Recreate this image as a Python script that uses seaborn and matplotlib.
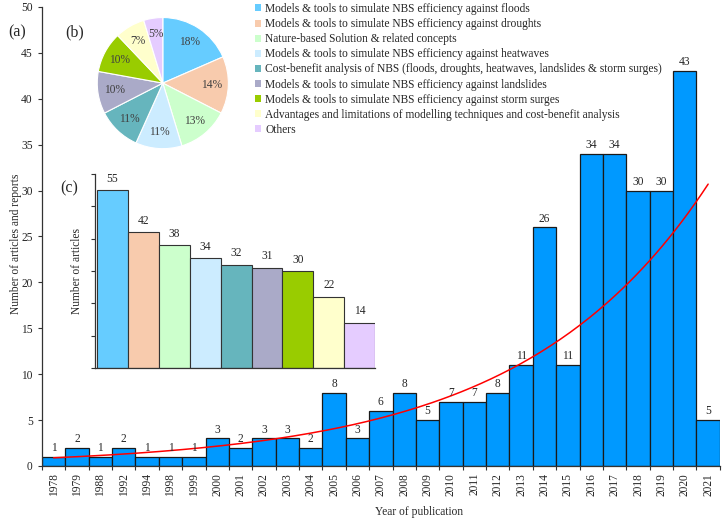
import numpy as np
import pandas as pd
import seaborn as sns
import matplotlib.pyplot as plt
from matplotlib.patches import Patch

sns.set_style('ticks')
plt.rcParams['font.family'] = ['Liberation Serif', 'DejaVu Serif']

# (a) articles per year
years = ['1978', '1979', '1988', '1992', '1994', '1998', '1999', '2000', '2001', '2002',
         '2003', '2004', '2005', '2006', '2007', '2008', '2009', '2010', '2011', '2012',
         '2013', '2014', '2015', '2016', '2017', '2018', '2019', '2020', '2021']
counts = [1, 2, 1, 2, 1, 1, 1, 3, 2, 3, 3, 2, 8, 3, 6, 8, 5, 7, 7, 8,
          11, 26, 11, 34, 34, 30, 30, 43, 5]

# (b)/(c) articles per topic
topics = ['Models & tools to simulate NBS efficiency against floods',
          'Models & tools to simulate NBS efficiency against droughts',
          'Nature-based Solution & related concepts',
          'Models & tools to simulate NBS efficiency against heatwaves',
          'Cost-benefit analysis of NBS (floods, droughts, heatwaves, landslides & storm surges)',
          'Models & tools to simulate NBS efficiency against landslides',
          'Models & tools to simulate NBS efficiency against storm surges',
          'Advantages and limitations of modelling techniques and cost-benefit analysis',
          'Others']
articles = [55, 42, 38, 34, 32, 31, 30, 22, 14]
topic_colors = ['#66CCFF', '#F8CBAD', '#CCFFCC', '#CCECFF', '#66B5BD',
                '#AAAAC8', '#99CC00', '#FFFFCC', '#E5CCFF']

txt = '#262626'
fs = 8.3

fig = plt.figure(figsize=(7.22, 5.21), dpi=100)

# ---- main bar chart
ax = fig.add_axes([0.058, 0.1056, 0.939, 0.881])
df = pd.DataFrame({'year': years, 'n': counts})
sns.barplot(data=df, x='year', y='n', color='#0099FF', saturation=1, width=1,
            edgecolor='#1a1a1a', linewidth=0.9, ax=ax)
ax.bar_label(ax.containers[0], padding=2, fontsize=fs, color=txt)

# exponential trend line fitted to the counts
idx = np.arange(len(counts))
b, a = np.polyfit(idx, np.log(counts), 1)
xs = np.linspace(0, len(counts) - 1, 200)
ax.plot(xs, np.exp(a + b * xs), color='#FF0000', lw=1.1)

ax.set_xlim(-0.5, len(counts) - 0.5)
ax.set_ylim(0, 50)
ax.set_yticks(range(0, 51, 5))
ax.set_xticks(np.arange(-0.5, len(counts), 1))
ax.set_xticklabels([])
ax.set_xticks(idx, minor=True)
ax.set_xticklabels(years, minor=True, rotation=90)
ax.tick_params(axis='x', which='minor', length=0, pad=5, labelsize=fs, labelcolor=txt)
ax.tick_params(axis='x', which='major', length=3, width=0.8, color='#333333')
ax.tick_params(axis='y', length=3, width=0.8, labelsize=fs, labelcolor=txt, color='#333333')
ax.set_xlabel('Year of publication', fontsize=fs, color=txt)
ax.set_ylabel('Number of articles and reports', fontsize=fs, color=txt)
ax.xaxis.set_label_coords(0.557, -0.088)
ax.yaxis.set_label_coords(-0.03, 0.485)
sns.despine(ax=ax)
for s in ['left', 'bottom']:
    ax.spines[s].set_color('#333333')
    ax.spines[s].set_linewidth(0.9)

# ---- (c) inset bar chart
axc = fig.add_axes([0.1316, 0.2937, 0.388, 0.372])
dc = pd.DataFrame({'topic': topics, 'n': articles})
sns.barplot(data=dc, x='topic', y='n', hue='topic', palette=topic_colors, legend=False,
            saturation=1, width=1, edgecolor='#333333', linewidth=0.8, ax=axc)
for c in axc.containers:
    axc.bar_label(c, padding=4, fontsize=fs, color=txt)
axc.set_xlim(-0.57, 8.5)
axc.set_ylim(0, 60)
axc.set_yticks(range(0, 61, 10))
axc.set_yticklabels([])
axc.set_xticks([])
axc.set_xlabel('')
axc.set_ylabel('Number of articles', fontsize=fs, color=txt, labelpad=2)
axc.tick_params(axis='y', length=3, width=0.8, color='#333333')
axc.patch.set_alpha(0)
sns.despine(ax=axc)
for s in ['left', 'bottom']:
    axc.spines[s].set_color('#333333')
    axc.spines[s].set_linewidth(0.9)

# ---- (b) pie chart
axp = fig.add_axes([0.112, 0.683, 0.227, 0.315])
axp.pie(articles, colors=topic_colors, startangle=90, counterclock=False,
        autopct='%1.0f%%', pctdistance=0.75,
        wedgeprops=dict(edgecolor='white', linewidth=0.8),
        textprops=dict(fontsize=fs, color='#404040'))
axp.set_aspect('equal')

handles = [Patch(facecolor=c, edgecolor='none') for c in topic_colors]
fig.legend(handles, topics, loc='upper left', bbox_to_anchor=(255 / 722, 1 - 3 / 521),
           frameon=False, fontsize=fs, handlelength=0.55, handleheight=0.55,
           handletextpad=0.35, labelspacing=0.27, borderpad=0, borderaxespad=0,
           labelcolor=txt)

fig.text(17 / 722, 1 - 32 / 521, '(a)', fontsize=11.5, ha='center', va='center', color=txt)
fig.text(75 / 722, 1 - 32 / 521, '(b)', fontsize=11.5, ha='center', va='center', color=txt)
fig.text(69 / 722, 1 - 188 / 521, '(c)', fontsize=11.5, ha='center', va='center', color=txt)

fig.savefig('out.png', dpi=100)
